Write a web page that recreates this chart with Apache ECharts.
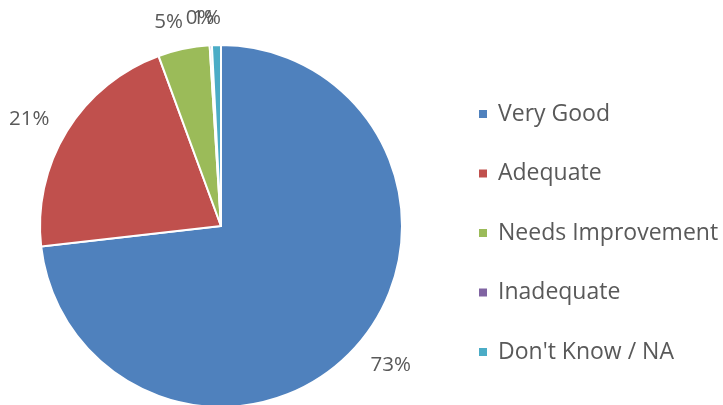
<!DOCTYPE html>
<html>
<head>
<meta charset="utf-8">
<script src="https://cdn.jsdelivr.net/npm/echarts@6/dist/echarts.min.js"></script>
<style>html,body{margin:0;padding:0;background:#fff}#c{width:723px;height:405px}</style>
</head>
<body>
<div id="c"></div>
<script>
const categories = ['Very Good', 'Adequate', 'Needs Improvement', 'Inadequate', "Don't Know / NA"];
const values = [73.2, 21.2, 4.6, 0.2, 0.8];
const colors = ['#4F81BD', '#C0504D', '#9BBB59', '#8064A2', '#4BACC6'];

const CX = 221, CY = 226, R = 181, GAP = 16, LABEL_ROT = -2.5 * Math.PI / 180;
const total = values.reduce((a, b) => a + b, 0);

const chart = echarts.init(document.getElementById('c'));
chart.setOption({
  animation: false,
  color: colors,
  legend: {
    orient: 'vertical',
    left: 472,
    top: 97,
    icon: 'rect',
    itemWidth: 10,
    itemHeight: 10,
    itemGap: 35.5,
    data: categories,
    textStyle: { fontFamily: 'Open Sans', fontSize: 23, color: '#595959', lineHeight: 24, padding: [0, 0, 0, 5] }
  },
  series: [{
    type: 'pie',
    center: [CX, CY],
    radius: R,
    startAngle: 90,
    clockwise: true,
    avoidLabelOverlap: false,
    itemStyle: { borderColor: '#fff', borderWidth: 2 },
    label: {
      show: true,
      position: 'outside',
      fontFamily: 'Open Sans',
      fontSize: 20.5,
      color: '#595959',
      formatter: p => Math.round(p.percent) + '%'
    },
    labelLine: { show: false, length: 14, length2: 4 },
    labelLayout: function (p) {
      const i = p.dataIndex;
      let cum = 0;
      for (let k = 0; k < i; k++) cum += values[k];
      const theta = (cum + values[i] / 2) / total * 2 * Math.PI + LABEL_ROT;
      const dx = Math.sin(theta), dy = -Math.cos(theta);
      const w = p.labelRect.width, h = p.labelRect.height;
      const d = R + GAP + Math.abs(dx) * w / 2 + Math.abs(dy) * h / 2;
      return { x: CX + dx * d, y: CY + dy * d, align: 'center', verticalAlign: 'middle' };
    },
    data: categories.map((n, i) => ({ name: n, value: values[i] }))
  }]
});
</script>
</body>
</html>
